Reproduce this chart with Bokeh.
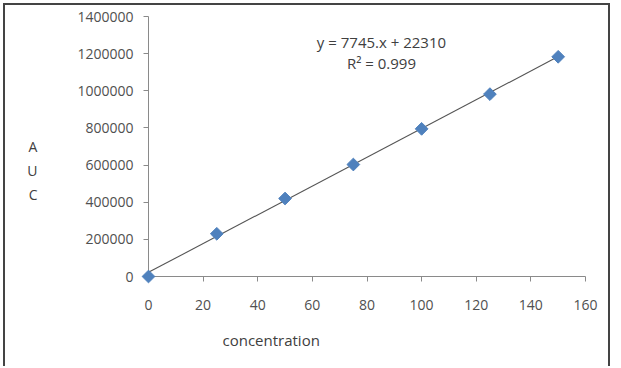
import math
from bokeh.plotting import figure
from bokeh.models import Range1d, Label, FixedTicker, Title
from bokeh.embed import file_html
from bokeh.resources import INLINE

conc = [0, 25, 50, 75, 100, 125, 150]
auc = [0, 230000, 420000, 603000, 795000, 982000, 1183000]
slope = 7745
intercept = 22310
fit_x = [0, 150]
x_ticks = [0, 20, 40, 60, 80, 100, 120, 140, 160]
y_ticks = [0, 200000, 400000, 600000, 800000, 1000000, 1200000, 1400000]
eq_text = "y = 7745.x + 22310"
r2_text = "R\u00b2 = 0.999"
y_title = ["A", "U", "C"]
x_title = "concentration"

FONT = "Open Sans"
TXT = "#404040"

p = figure(width=607, height=363, output_backend="svg", toolbar_location=None,
           x_range=Range1d(0, 160), y_range=Range1d(0, 1400000),
           min_border_left=143, min_border_right=27, min_border_top=11, min_border_bottom=92)
p.styles = {"margin-left": "3px", "margin-top": "3px",
            "border-left": "2px solid #444", "border-top": "2px solid #444",
            "border-right": "2px solid #444"}
p.outline_line_color = None
p.grid.visible = False
p.background_fill_color = "white"
p.border_fill_color = "white"

for ax in (p.xaxis[0], p.yaxis[0]):
    ax.axis_line_color = "#8a8a8a"
    ax.major_tick_line_color = "#8a8a8a"
    ax.major_tick_out = 5
    ax.major_tick_in = 0
    ax.minor_tick_line_color = None
    ax.major_label_text_font = FONT
    ax.major_label_text_font_size = "14px"
    ax.major_label_text_color = "#505050"

p.xaxis.ticker = FixedTicker(ticks=x_ticks)
p.yaxis.ticker = FixedTicker(ticks=y_ticks)
p.yaxis.major_label_overrides = {t: str(t) for t in y_ticks}
p.xaxis.major_label_standoff = 18
p.yaxis.major_label_standoff = 10

ya = p.yaxis[0]
ya.axis_label = "\n".join(["\u00a0", "\u00a0"] + y_title)
ya.axis_label_orientation = "horizontal"
ya.axis_label_text_font = FONT
ya.axis_label_text_font_size = "14px"
ya.axis_label_text_font_style = "normal"
ya.axis_label_text_color = TXT
ya.axis_label_text_line_height = 1.27
ya.axis_label_standoff = 37

fit_y = [slope * x + intercept for x in fit_x]
p.line(fit_x, fit_y, line_color="#555555", line_width=1.1)
p.scatter(conc, auc, marker="square", angle=math.pi / 4, size=9,
          fill_color="#4F81BD", line_color="#4F81BD", level="overlay")

p.add_layout(Label(x=85.3, y=1262000, text=eq_text, text_font=FONT, text_font_size="15px",
                   text_color=TXT, text_align="center", text_baseline="middle"))
p.add_layout(Label(x=85.3, y=1147000, text=r2_text, text_font=FONT, text_font_size="15px",
                   text_color=TXT, text_align="center", text_baseline="middle"))

p.add_layout(Title(text=x_title, align="left", offset=74, standoff=30, text_font=FONT,
                   text_font_size="15px", text_color=TXT, text_font_style="normal"), "below")

open("out.html", "w").write(file_html(p, INLINE))
